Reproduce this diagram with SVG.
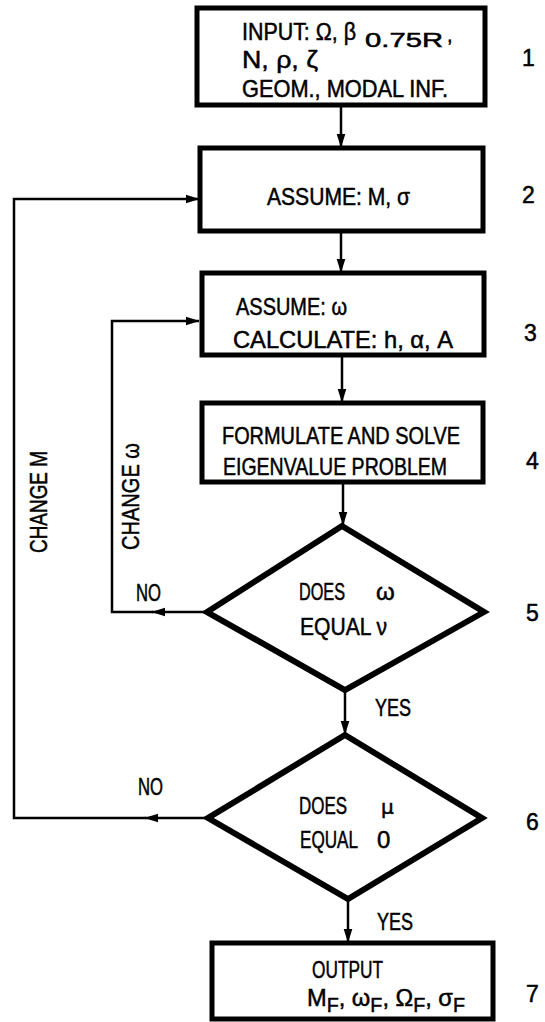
<svg xmlns="http://www.w3.org/2000/svg" width="545" height="1022" viewBox="0 0 545 1022">
<defs>
<marker id="ah" markerUnits="userSpaceOnUse" markerWidth="14" markerHeight="22" viewBox="0 0 22 14" refX="21" refY="7" orient="auto">
<path d="M0,0 L22,7 L0,14 Z" fill="#000"/>
</marker>
</defs>
<style>
.box{fill:#fff;stroke:#000;stroke-width:5}
.dia{fill:#fff;stroke:#000;stroke-width:6;stroke-linejoin:miter}
.con{fill:none;stroke:#000;stroke-width:2.5}
text{font-family:"Liberation Sans Narrow","Liberation Sans",Arial,sans-serif;font-size:24px;fill:#000;stroke:#000;stroke-width:0.5}
.sub{font-size:20px}
.lbl{font-size:23px}
.sym{font-family:"DejaVu Sans",sans-serif;font-size:20px}
</style>
<rect width="545" height="1022" fill="#fff"/>
<g id="connectors">
<path class="con" d="M341,105 L341,147" marker-end="url(#ah)"/>
<path class="con" d="M341,231 L341,272" marker-end="url(#ah)"/>
<path class="con" d="M342,355 L342,402" marker-end="url(#ah)"/>
<path class="con" d="M343,482 L343,525" marker-end="url(#ah)"/>
<path class="con" d="M345,690 L345,734" marker-end="url(#ah)"/>
<path class="con" d="M348,900 L348,942" marker-end="url(#ah)"/>
<path class="con" d="M207,612 L152,612" marker-end="url(#ah)"/>
<path class="con" d="M153,612 L112,612 L112,321 L199,321" marker-end="url(#ah)"/>
<path class="con" d="M208,818 L145,818" marker-end="url(#ah)"/>
<path class="con" d="M146,818 L14,818 L14,199 L199,199" marker-end="url(#ah)"/>
<text x="136" y="601" textLength="25" lengthAdjust="spacingAndGlyphs">NO</text>
<text x="138" y="795" textLength="25" lengthAdjust="spacingAndGlyphs">NO</text>
<text x="375" y="716" textLength="36" lengthAdjust="spacingAndGlyphs">YES</text>
<text x="377" y="930" textLength="36" lengthAdjust="spacingAndGlyphs">YES</text>
<text transform="translate(47,553) rotate(-90)" textLength="102" lengthAdjust="spacingAndGlyphs">CHANGE  M</text>
<text transform="translate(139,550) rotate(-90)" textLength="107" lengthAdjust="spacingAndGlyphs">CHANGE  ω</text>
</g>
<g id="node1">
<rect class="box" x="197" y="8" width="288" height="97"/>
<text x="242" y="40" textLength="114" lengthAdjust="spacingAndGlyphs">INPUT: Ω, β</text>
<text class="sub" x="365" y="47" textLength="78" lengthAdjust="spacingAndGlyphs">0.75R</text>
<text class="sub" x="447" y="42">,</text>
<text x="242" y="68" textLength="76" lengthAdjust="spacingAndGlyphs">N, ρ, ζ</text>
<text x="242" y="97" textLength="206" lengthAdjust="spacingAndGlyphs">GEOM., MODAL INF.</text>
<text class="lbl" x="522" y="66">1</text>
</g>
<g id="node2">
<rect class="box" x="200" y="148" width="283" height="83"/>
<text x="267" y="205" textLength="143" lengthAdjust="spacingAndGlyphs">ASSUME: M, σ</text>
<text class="lbl" x="522" y="203">2</text>
</g>
<g id="node3">
<rect class="box" x="202" y="273" width="282" height="82"/>
<text x="236" y="315" textLength="111" lengthAdjust="spacingAndGlyphs">ASSUME: ω</text>
<text x="233" y="348" textLength="220" lengthAdjust="spacingAndGlyphs">CALCULATE: h, α, A</text>
<text class="lbl" x="524" y="341">3</text>
</g>
<g id="node4">
<rect class="box" x="202" y="403" width="281" height="79"/>
<text x="222" y="444" textLength="238" lengthAdjust="spacingAndGlyphs">FORMULATE AND SOLVE</text>
<text x="223" y="475" textLength="224" lengthAdjust="spacingAndGlyphs">EIGENVALUE PROBLEM</text>
<text class="lbl" x="526" y="469">4</text>
</g>
<g id="node5">
<polygon class="dia" points="342,526 484,612 345,690 207,612"/>
<text x="299" y="600"><tspan textLength="46" lengthAdjust="spacingAndGlyphs">DOES</tspan><tspan x="376">ω</tspan></text>
<text x="300" y="635" textLength="87" lengthAdjust="spacingAndGlyphs">EQUAL ν</text>
<text class="lbl" x="526" y="621">5</text>
</g>
<g id="node6">
<polygon class="dia" points="345,735 482,818 348,899 208,818"/>
<text x="299" y="814"><tspan textLength="48" lengthAdjust="spacingAndGlyphs">DOES</tspan><tspan class="sym" x="381">μ</tspan></text>
<text x="300" y="848"><tspan textLength="58" lengthAdjust="spacingAndGlyphs">EQUAL</tspan><tspan x="377">0</tspan></text>
<text class="lbl" x="526" y="830">6</text>
</g>
<g id="node7">
<rect class="box" x="212" y="943" width="281" height="76"/>
<text x="312" y="978" textLength="71" lengthAdjust="spacingAndGlyphs">OUTPUT</text>
<text x="307" y="1006" textLength="158" lengthAdjust="spacingAndGlyphs">M<tspan class="sub" dy="6">F</tspan><tspan dy="-6">, ω</tspan><tspan class="sub" dy="6">F</tspan><tspan dy="-6">, Ω</tspan><tspan class="sub" dy="6">F</tspan><tspan dy="-6">, σ</tspan><tspan class="sub" dy="6">F</tspan></text>
<text class="lbl" x="526" y="1002">7</text>
</g>
</svg>
